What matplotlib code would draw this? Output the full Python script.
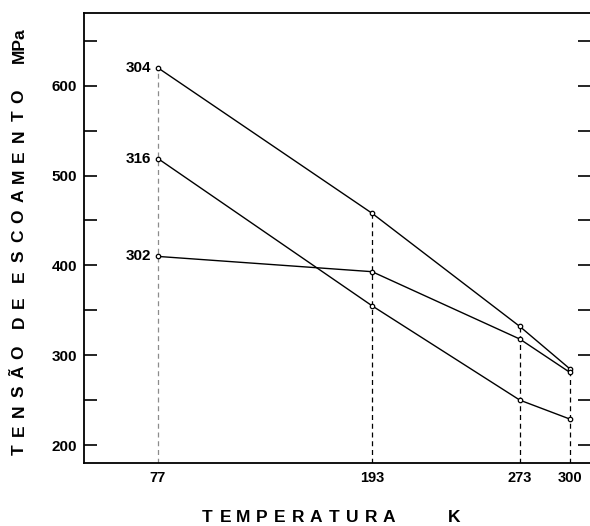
import matplotlib
matplotlib.use("Agg")
from matplotlib import pyplot as plt
from matplotlib.ticker import MultipleLocator

# temperatures (K) and yield stress (MPa) per steel grade
temperatures = [77, 193, 273, 300]
steel_304 = [620, 458, 332, 285]
steel_316 = [519, 355, 250, 229]
steel_302 = [410, 393, 318, 281]
series = [("304", steel_304), ("316", steel_316), ("302", steel_302)]

W, H = 590, 526

plt.rcParams["font.family"] = ["Liberation Sans", "DejaVu Sans"]
plt.rcParams["font.weight"] = "bold"

fig = plt.figure(figsize=(W / 100, H / 100), dpi=100)
ax = fig.add_axes([84 / W, 1 - 463 / H, 1 - 84 / W, (463 - 13) / H])


def spaced_text(x, y, text, step, vertical=False, size=12.5):
    """draw letter-spaced text one char at a time (pixel coords, y from top)"""
    for ch in text:
        fig.text(x / W, 1 - y / H, ch, ha="center", va="center",
                 rotation=90 if vertical else 0, fontsize=size,
                 fontweight="bold")
        if vertical:
            y -= step
        else:
            x += step


# dashed guides from the highest point down to the axis
for i, t in enumerate(temperatures):
    top = max(s[1][i] for s in series)
    col = "0.55" if t == 77 else "k"
    ax.plot([t, t], [170, top], ls=(0, (4, 3)), color=col, lw=0.9, zorder=1)

for name, vals in series:
    ax.plot(temperatures, vals, color="k", lw=1.0, marker="o", ms=3.2,
            mfc="white", mec="k", mew=0.9, zorder=3)
    ax.text(temperatures[0] - 3.5, vals[0], name, ha="right", va="center",
            fontsize=11, fontweight="bold")

ax.set_xlim(37, 311)
ax.set_ylim(180, 681)

ax.set_xticks(temperatures)
ax.set_xticklabels([str(t) for t in temperatures])
ax.tick_params(axis="x", length=0, pad=6, labelsize=10.5)

ax.yaxis.set_major_locator(MultipleLocator(100))
ax.yaxis.set_minor_locator(MultipleLocator(50))
ax.set_yticks(range(200, 601, 100))
ax.tick_params(axis="y", which="both", direction="in", length=9, width=1.2,
               left=True, right=True, labelsize=11, pad=5)

ax.spines["right"].set_visible(False)
for side in ("left", "top", "bottom"):
    ax.spines[side].set_linewidth(1.3)

# y label, word by word
spaced_text(19, 450, "TENSÃO", 19.5, vertical=True)
spaced_text(19, 322, "DE", 19.5, vertical=True)
spaced_text(19, 276, "ESCOAMENTO", 20, vertical=True)
fig.text(19 / W, 1 - 45 / H, "MPa", rotation=90, ha="center", va="center",
         fontsize=12.5, fontweight="bold")

# x label
spaced_text(207, 518, "TEMPERATURA", 18.2)
fig.text(454 / W, 1 - 518 / H, "K", ha="center", va="center", fontsize=12.5,
         fontweight="bold")

plt.savefig("out.png", dpi=100)
